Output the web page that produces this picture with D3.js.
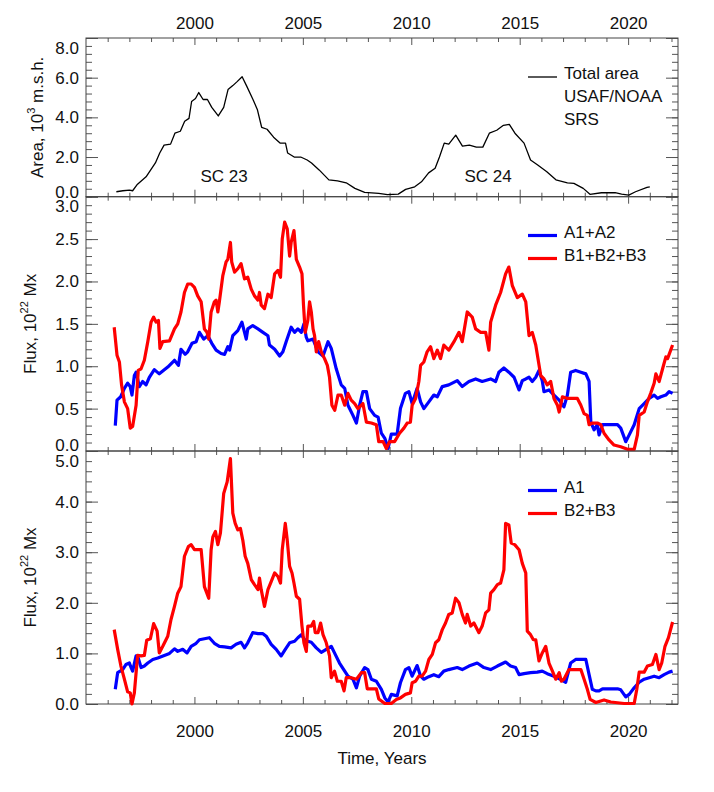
<!DOCTYPE html>
<html>
<head>
<meta charset="utf-8">
<script src="https://cdn.jsdelivr.net/npm/d3@7"></script>
<style>
  body { margin: 0; background: #fff; }
  svg { font-family: "Liberation Sans", Arial, Helvetica, sans-serif; }
</style>
</head>
<body>
<svg width="714" height="792"></svg>
<script>
// ---- data ----
var yearTicks = [2000, 2005, 2010, 2015, 2020];
var areaTicks = [0, 2, 4, 6, 8];
var flux1Ticks = [0, 0.5, 1.0, 1.5, 2.0, 2.5, 3.0];
var flux2Ticks = [0, 1, 2, 3, 4, 5];

// total sunspot area, 10^3 m.s.h.
var areaYears = [1996.40,1996.7,1997.0,1997.15,1997.35,1997.77,1998.2,1998.4,1998.6,1998.9,1999.1,1999.35,1999.55,1999.75,1999.87,2000.05,2000.2,2000.4,2000.6,2000.8,2001.1,2001.35,2001.55,2001.77,2001.97,2002.2,2002.4,2002.7,2002.9,2003.1,2003.35,2003.65,2003.96,2004.2,2004.3,2004.6,2004.9,2005.2,2005.4,2005.75,2006.2,2006.6,2007.0,2007.4,2007.85,2008.5,2008.9,2009.4,2009.74,2010.16,2010.47,2010.8,2011.1,2011.3,2011.52,2011.73,2012.05,2012.36,2012.68,2013.0,2013.3,2013.6,2013.94,2014.25,2014.52,2014.78,2015.2,2015.5,2015.83,2016.25,2016.67,2017.2,2017.5,2017.93,2018.24,2018.77,2019.4,2019.7,2020.03,2020.34,2020.87,2021.0];
var areaVals = [0.25,0.3,0.33,0.3,0.6,1.0,1.7,2.2,2.6,2.65,3.2,3.3,3.8,3.95,4.8,4.95,5.25,4.9,4.9,4.5,4.07,4.5,5.4,5.6,5.8,6.05,5.6,4.9,4.4,3.5,3.4,3.0,2.7,2.7,2.2,2.0,2.0,1.85,1.7,1.35,0.85,0.8,0.7,0.42,0.22,0.17,0.1,0.13,0.37,0.5,0.75,1.2,1.43,2.0,2.7,2.65,3.1,2.55,2.6,2.5,2.5,3.2,3.35,3.6,3.65,3.2,2.7,1.85,1.6,1.26,0.85,0.7,0.67,0.42,0.12,0.2,0.2,0.13,0.08,0.25,0.47,0.5];

// A1+A2 flux, 10^22 Mx
var a12Years = [1996.35,1996.43,1996.6,1996.77,1996.92,1997.04,1997.12,1997.23,1997.31,1997.46,1997.61,1997.77,1997.92,1998.15,1998.38,1998.77,1999.08,1999.26,1999.38,1999.57,1999.69,1999.89,2000.08,2000.23,2000.43,2000.62,2000.8,2001.0,2001.23,2001.39,2001.54,2001.62,2001.77,2002.0,2002.19,2002.39,2002.46,2002.69,2002.93,2003.16,2003.39,2003.46,2003.7,2003.93,2004.08,2004.23,2004.46,2004.62,2004.77,2004.93,2005.05,2005.16,2005.23,2005.47,2005.7,2005.93,2006.16,2006.31,2006.54,2006.77,2006.93,2007.08,2007.31,2007.47,2007.62,2007.77,2007.93,2008.08,2008.31,2008.47,2008.62,2008.78,2008.93,2009.08,2009.35,2009.5,2009.73,2009.89,2010.04,2010.27,2010.43,2010.58,2010.81,2011.04,2011.2,2011.43,2011.73,2012.12,2012.35,2012.66,2012.97,2013.27,2013.66,2013.89,2014.04,2014.27,2014.5,2014.74,2014.97,2015.12,2015.28,2015.43,2015.58,2015.74,2015.89,2016.04,2016.12,2016.35,2016.58,2016.82,2017.04,2017.2,2017.35,2017.58,2017.82,2018.05,2018.2,2018.28,2018.43,2018.58,2018.66,2018.82,2019.2,2019.51,2019.66,2019.89,2020.05,2020.28,2020.51,2020.74,2020.97,2021.2,2021.36,2021.51,2021.74,2021.89,2022.05];
var a12Vals = [0.30,0.60,0.64,0.74,0.80,0.76,0.66,0.89,0.93,0.76,0.82,0.78,0.87,0.96,0.91,0.99,1.07,1.01,1.20,1.14,1.17,1.27,1.29,1.40,1.32,1.36,1.27,1.19,1.15,1.14,1.23,1.19,1.36,1.42,1.52,1.32,1.44,1.48,1.44,1.40,1.36,1.25,1.20,1.12,1.17,1.29,1.46,1.40,1.44,1.40,1.50,1.34,1.30,1.32,1.17,1.12,1.29,1.21,0.97,0.78,0.74,0.54,0.42,0.33,0.54,0.70,0.70,0.50,0.42,0.40,0.21,0.15,0.03,0.20,0.20,0.50,0.68,0.70,0.56,0.74,0.58,0.50,0.58,0.66,0.64,0.76,0.78,0.83,0.76,0.82,0.85,0.82,0.85,0.82,0.93,0.98,0.93,0.87,0.72,0.83,0.85,0.87,0.82,0.87,0.95,0.83,0.70,0.72,0.66,0.60,0.52,0.66,0.93,0.95,0.93,0.91,0.82,0.34,0.25,0.31,0.19,0.31,0.31,0.31,0.27,0.11,0.19,0.31,0.50,0.56,0.62,0.66,0.62,0.64,0.66,0.70,0.68];

// B1+B2+B3 flux
var b123Years = [1996.3,1996.43,1996.54,1996.64,1996.77,1996.92,1997.04,1997.15,1997.31,1997.41,1997.54,1997.69,1997.85,1998.0,1998.12,1998.23,1998.34,1998.41,1998.54,1998.85,1999.08,1999.23,1999.38,1999.54,1999.69,1999.85,2000.0,2000.15,2000.31,2000.46,2000.58,2000.66,2000.77,2000.92,2001.0,2001.08,2001.15,2001.31,2001.46,2001.54,2001.66,2001.72,2001.85,2002.0,2002.15,2002.31,2002.46,2002.62,2002.77,2002.93,2003.0,2003.08,2003.23,2003.39,2003.54,2003.7,2003.85,2003.97,2004.05,2004.16,2004.28,2004.39,2004.46,2004.59,2004.7,2004.85,2004.96,2005.03,2005.11,2005.23,2005.31,2005.39,2005.47,2005.54,2005.62,2005.73,2005.85,2006.0,2006.13,2006.23,2006.34,2006.47,2006.62,2006.77,2006.93,2007.08,2007.23,2007.39,2007.54,2007.77,2007.93,2008.16,2008.39,2008.5,2008.7,2008.85,2009.0,2009.23,2009.46,2009.66,2009.81,2009.96,2010.04,2010.2,2010.35,2010.43,2010.58,2010.73,2010.89,2011.04,2011.2,2011.35,2011.5,2011.73,2011.97,2012.2,2012.35,2012.58,2012.81,2012.97,2013.2,2013.43,2013.58,2013.66,2013.89,2014.12,2014.35,2014.5,2014.66,2014.89,2015.12,2015.28,2015.43,2015.58,2015.74,2015.97,2016.12,2016.27,2016.43,2016.58,2016.74,2016.82,2016.97,2017.2,2017.66,2017.82,2017.97,2018.12,2018.2,2018.35,2018.58,2018.74,2018.89,2019.12,2019.35,2019.66,2019.97,2020.28,2020.43,2020.51,2020.74,2020.89,2021.04,2021.2,2021.28,2021.43,2021.59,2021.74,2021.82,2022.05];
var b123Vals = [1.46,1.13,1.05,0.78,0.58,0.50,0.27,0.29,0.54,0.95,0.97,1.07,1.29,1.52,1.58,1.52,1.54,1.21,1.29,1.30,1.44,1.50,1.64,1.87,1.97,1.97,1.93,1.83,1.76,1.44,1.40,1.32,1.64,1.76,1.78,1.64,1.76,2.07,2.23,2.26,2.46,2.23,2.11,2.15,2.21,2.03,2.05,1.91,1.83,1.78,1.87,1.72,1.68,1.85,1.81,2.09,2.13,2.05,2.50,2.70,2.62,2.30,2.46,2.60,2.26,2.17,2.09,1.72,1.40,1.54,1.76,1.64,1.44,1.36,1.17,1.29,1.17,1.09,1.01,0.87,0.54,0.48,0.66,0.66,0.54,0.68,0.60,0.56,0.50,0.56,0.34,0.33,0.31,0.11,0.11,0.03,0.11,0.11,0.21,0.27,0.33,0.34,0.54,0.62,0.82,1.01,1.05,1.17,1.23,1.09,1.19,1.09,1.25,1.19,1.29,1.40,1.29,1.64,1.58,1.44,1.40,1.40,1.19,1.52,1.72,1.87,2.09,2.17,1.95,1.81,1.85,1.76,1.36,1.40,1.25,0.89,0.85,0.78,0.82,0.62,0.54,0.46,0.64,0.62,0.62,0.54,0.44,0.42,0.31,0.33,0.33,0.31,0.21,0.13,0.07,0.05,0.02,0.02,0.19,0.42,0.46,0.58,0.68,0.80,0.91,0.82,0.97,1.11,1.09,1.25];

// A1 flux
var a1Years = [1996.35,1996.46,1996.69,1996.84,1997.0,1997.08,1997.15,1997.31,1997.38,1997.54,1997.69,1997.85,1998.08,1998.31,1998.61,1998.85,1999.08,1999.23,1999.46,1999.66,1999.85,2000.08,2000.23,2000.46,2000.69,2000.92,2001.15,2001.39,2001.69,2001.92,2002.15,2002.31,2002.46,2002.69,2002.93,2003.16,2003.31,2003.54,2003.77,2004.0,2004.19,2004.39,2004.62,2004.77,2004.93,2005.08,2005.23,2005.39,2005.62,2005.85,2006.08,2006.31,2006.46,2006.69,2006.93,2007.08,2007.31,2007.47,2007.62,2007.85,2008.0,2008.16,2008.39,2008.62,2008.78,2008.93,2009.08,2009.35,2009.5,2009.73,2009.89,2010.04,2010.27,2010.43,2010.58,2010.81,2011.04,2011.27,2011.5,2011.73,2012.12,2012.35,2012.66,2013.04,2013.35,2013.66,2013.97,2014.35,2014.58,2014.81,2014.97,2015.2,2015.5,2015.81,2016.04,2016.27,2016.58,2016.82,2017.12,2017.35,2017.58,2017.82,2018.05,2018.2,2018.35,2018.51,2018.66,2018.82,2019.2,2019.51,2019.66,2019.89,2020.05,2020.28,2020.51,2020.74,2020.97,2021.2,2021.43,2021.66,2021.89,2022.05];
var a1Vals = [0.29,0.62,0.68,0.78,0.81,0.72,0.65,0.95,0.95,0.72,0.75,0.81,0.88,0.91,0.96,1.00,1.09,1.04,1.08,1.01,1.14,1.20,1.27,1.29,1.31,1.20,1.14,1.13,1.11,1.18,1.22,1.11,1.21,1.41,1.39,1.39,1.34,1.18,1.08,0.95,1.08,1.21,1.24,1.31,1.37,1.27,1.24,1.22,1.11,1.02,1.08,1.14,1.01,0.81,0.65,0.55,0.49,0.32,0.55,0.72,0.68,0.49,0.45,0.29,0.12,0.04,0.19,0.16,0.42,0.68,0.72,0.55,0.76,0.55,0.49,0.54,0.58,0.54,0.65,0.68,0.72,0.68,0.75,0.81,0.72,0.68,0.75,0.83,0.75,0.72,0.58,0.60,0.62,0.63,0.65,0.60,0.55,0.50,0.43,0.81,0.88,0.88,0.88,0.58,0.29,0.26,0.26,0.30,0.30,0.30,0.28,0.14,0.19,0.32,0.43,0.49,0.52,0.55,0.52,0.58,0.63,0.65];

// B2+B3 flux
var b23Years = [1996.3,1996.46,1996.61,1996.77,1996.92,1997.04,1997.12,1997.23,1997.38,1997.54,1997.69,1997.8,1997.97,1998.12,1998.28,1998.38,1998.54,1998.77,1998.92,1999.08,1999.23,1999.38,1999.54,1999.72,1999.85,2000.0,2000.15,2000.31,2000.46,2000.66,2000.77,2000.85,2000.97,2001.08,2001.2,2001.35,2001.51,2001.66,2001.77,2001.88,2002.0,2002.12,2002.23,2002.34,2002.46,2002.62,2002.77,2002.93,2003.0,2003.08,2003.23,2003.39,2003.54,2003.7,2003.85,2003.97,2004.05,2004.19,2004.28,2004.39,2004.5,2004.59,2004.7,2004.85,2004.96,2005.05,2005.16,2005.23,2005.39,2005.5,2005.57,2005.7,2005.82,2005.93,2006.08,2006.23,2006.31,2006.46,2006.59,2006.77,2006.9,2007.0,2007.23,2007.47,2007.7,2007.85,2007.97,2008.16,2008.39,2008.5,2008.78,2009.08,2009.31,2009.5,2009.73,2009.96,2010.04,2010.2,2010.35,2010.5,2010.66,2010.81,2010.97,2011.12,2011.27,2011.43,2011.58,2011.73,2011.89,2012.04,2012.2,2012.35,2012.5,2012.58,2012.74,2012.89,2013.12,2013.27,2013.43,2013.58,2013.66,2013.81,2013.97,2014.12,2014.27,2014.35,2014.5,2014.61,2014.77,2014.97,2015.12,2015.28,2015.35,2015.5,2015.63,2015.74,2015.89,2016.04,2016.2,2016.35,2016.51,2016.66,2016.82,2016.92,2017.04,2017.27,2017.58,2017.82,2017.97,2018.12,2018.25,2018.51,2018.89,2019.2,2019.82,2020.28,2020.4,2020.51,2020.74,2020.89,2021.12,2021.28,2021.43,2021.55,2021.7,2021.86,2022.05];
var b23Vals = [1.47,1.08,0.75,0.49,0.24,0.22,0.0,0.22,0.96,0.95,0.96,1.26,1.29,1.59,1.44,1.01,1.14,1.34,1.67,1.93,2.19,2.32,2.92,3.11,3.15,3.05,3.05,3.05,2.32,2.09,3.05,3.30,3.41,3.15,3.38,4.16,4.39,4.85,3.77,3.57,3.44,3.47,3.24,2.92,2.78,2.46,2.36,2.26,2.49,2.26,1.93,2.26,2.42,2.59,2.52,2.39,3.05,3.57,3.24,2.72,2.59,2.39,2.13,2.07,1.54,1.21,1.04,1.54,1.54,1.63,1.41,1.41,1.60,1.37,1.21,0.95,0.52,0.65,0.45,0.45,0.26,0.52,0.52,0.49,0.62,0.62,0.30,0.30,0.30,0.10,0.01,0.01,0.09,0.12,0.19,0.22,0.42,0.45,0.55,0.55,0.65,0.88,0.98,1.21,1.27,1.47,1.60,1.77,1.80,2.09,2.00,1.77,1.60,1.77,1.54,1.60,1.41,1.54,1.80,1.86,2.19,2.26,2.36,2.39,2.65,3.57,3.54,3.18,3.15,3.05,2.78,2.59,1.44,1.37,1.27,1.27,0.85,1.01,1.14,0.81,0.65,0.49,0.62,0.45,0.49,0.68,0.68,0.68,0.49,0.29,0.09,0.03,0.08,0.04,0.01,0.01,0.29,0.63,0.63,0.75,0.78,0.98,0.68,0.81,1.14,1.31,1.62];

// ---- layout ----
var svg = d3.select("svg");
var left = 86, right = 678;
var x = d3.scaleLinear().domain([1995, 2022.3]).range([left, right]);
var yearMinor = d3.range(1995, 2023).filter(function (d) { return d % 5 !== 0; });
var fmt = d3.format(".1f");

var panels = [
  { top: 38, bottom: 196.7, domain: [0, 8], ticks: areaTicks, minor: 0.4,
    topLabels: true, bottomLabels: false, nudgeBottom: -5,
    label: ["Area, 10", "3", " m.s.h."], labelX: 37 },
  { top: 196.7, bottom: 451, domain: [0, 3], ticks: flux1Ticks, minor: 0.1,
    topLabels: false, bottomLabels: false, nudgeBottom: -6,
    label: ["Flux, 10", "22", " Mx"], labelX: 30 },
  { top: 451, bottom: 704, domain: [0, 5], ticks: flux2Ticks, minor: 0.2,
    topLabels: false, bottomLabels: true, nudgeBottom: 0,
    label: ["Flux, 10", "22", " Mx"], labelX: 30 }
];

function clean(sel) {
  sel.select(".domain").remove();
  sel.attr("font-family", null).attr("font-size", 17);
  sel.selectAll(".tick line").attr("stroke", "#555");
  sel.selectAll(".tick text").attr("fill", "#111");
}

panels.forEach(function (p, i) {
  p.y = d3.scaleLinear().domain(p.domain).range([p.bottom, p.top]);
  var g = svg.append("g");
  var yMinor = d3.range(p.domain[0], p.domain[1] + 1e-9, p.minor);

  // x ticks on bottom and top edges
  g.append("g").attr("transform", "translate(0," + p.bottom + ")")
    .call(d3.axisBottom(x).tickValues(yearMinor).tickSize(-4).tickFormat("")).call(clean);
  g.append("g").attr("transform", "translate(0," + p.bottom + ")")
    .call(d3.axisBottom(x).tickValues(yearTicks).tickSize(-7).tickPadding(21)
      .tickFormat(p.bottomLabels ? d3.format("d") : "")).call(clean);
  g.append("g").attr("transform", "translate(0," + p.top + ")")
    .call(d3.axisTop(x).tickValues(yearMinor).tickSize(-4).tickFormat("")).call(clean);
  g.append("g").attr("transform", "translate(0," + p.top + ")")
    .call(d3.axisTop(x).tickValues(yearTicks).tickSize(-7).tickPadding(9.5)
      .tickFormat(p.topLabels ? d3.format("d") : "")).call(clean);

  // y ticks on left and right edges
  g.append("g").attr("transform", "translate(" + left + ",0)")
    .call(d3.axisLeft(p.y).tickValues(yMinor).tickSize(-6).tickFormat("")).call(clean);
  var ya = g.append("g").attr("transform", "translate(" + left + ",0)")
    .call(d3.axisLeft(p.y).tickValues(p.ticks).tickSize(-12).tickPadding(7).tickFormat(fmt)).call(clean);
  var n = p.ticks.length;
  ya.selectAll(".tick text").attr("dy", function (d, j) {
    if (j === n - 1) return "0.9em";
    if (j === 0) return (0.32 + p.nudgeBottom / 17) + "em";
    return "0.32em";
  });
  g.append("g").attr("transform", "translate(" + right + ",0)")
    .call(d3.axisRight(p.y).tickValues(yMinor).tickSize(-6).tickFormat("")).call(clean);
  g.append("g").attr("transform", "translate(" + right + ",0)")
    .call(d3.axisRight(p.y).tickValues(p.ticks).tickSize(-12).tickFormat("")).call(clean);

  // frame
  g.append("rect").attr("x", left).attr("y", p.top)
    .attr("width", right - left).attr("height", p.bottom - p.top)
    .attr("fill", "none").attr("stroke", "#444").attr("stroke-width", 1);

  // y title
  var cy = (p.top + p.bottom) / 2;
  var t = g.append("text").attr("transform", "translate(" + p.labelX + "," + cy + ") rotate(-90)")
    .attr("text-anchor", "middle").attr("dy", "0.35em").attr("font-size", 17).attr("fill", "#111");
  t.append("tspan").text(p.label[0]);
  t.append("tspan").attr("font-size", 11).attr("dy", "-0.75em").text(p.label[1]);
  t.append("tspan").attr("dy", "0.47em").text(p.label[2]);

  svg.append("clipPath").attr("id", "clip" + i).append("rect")
    .attr("x", left).attr("y", p.top - 2).attr("width", right - left).attr("height", p.bottom - p.top + 4);
  p.lines = svg.append("g").attr("clip-path", "url(#clip" + i + ")");
});

function series(panel, xs, vs, color, width) {
  var line = d3.line()
    .x(function (d) { return x(d[0]); })
    .y(function (d) { return panel.y(d[1]); });
  panel.lines.append("path").datum(d3.zip(xs, vs))
    .attr("d", line).attr("fill", "none").attr("stroke", color)
    .attr("stroke-width", width).attr("stroke-linejoin", "round");
}

series(panels[0], areaYears, areaVals, "#000", 1.3);
series(panels[1], a12Years, a12Vals, "#0000ff", 3.2);
series(panels[1], b123Years, b123Vals, "#ff0000", 3.2);
series(panels[2], a1Years, a1Vals, "#0000ff", 3.2);
series(panels[2], b23Years, b23Vals, "#ff0000", 3.2);

// legends and annotations
function legend(items, y0) {
  items.forEach(function (it, k) {
    var yy = y0 + k * 23;
    if (it.color) {
      svg.append("line").attr("x1", 528).attr("x2", 557).attr("y1", yy).attr("y2", yy)
        .attr("stroke", it.color).attr("stroke-width", it.w);
    }
    svg.append("text").attr("x", 564).attr("y", yy + 2).attr("font-size", 17)
      .attr("fill", "#111").text(it.name);
  });
}
legend([{ name: "Total area", color: "#000", w: 1.3 }, { name: "USAF/NOAA" }, { name: "SRS" }], 77);
legend([{ name: "A1+A2", color: "#0000ff", w: 3.2 }, { name: "B1+B2+B3", color: "#ff0000", w: 3.2 }], 235.5);
legend([{ name: "A1", color: "#0000ff", w: 3.2 }, { name: "B2+B3", color: "#ff0000", w: 3.2 }], 490.5);

svg.append("text").attr("x", 224).attr("y", 181.5).attr("text-anchor", "middle")
  .attr("font-size", 17).attr("fill", "#111").text("SC 23");
svg.append("text").attr("x", 488).attr("y", 181.5).attr("text-anchor", "middle")
  .attr("font-size", 17).attr("fill", "#111").text("SC 24");

svg.append("text").attr("x", (left + right) / 2).attr("y", 764).attr("text-anchor", "middle")
  .attr("font-size", 17).attr("fill", "#111").text("Time, Years");
</script>
</body>
</html>
